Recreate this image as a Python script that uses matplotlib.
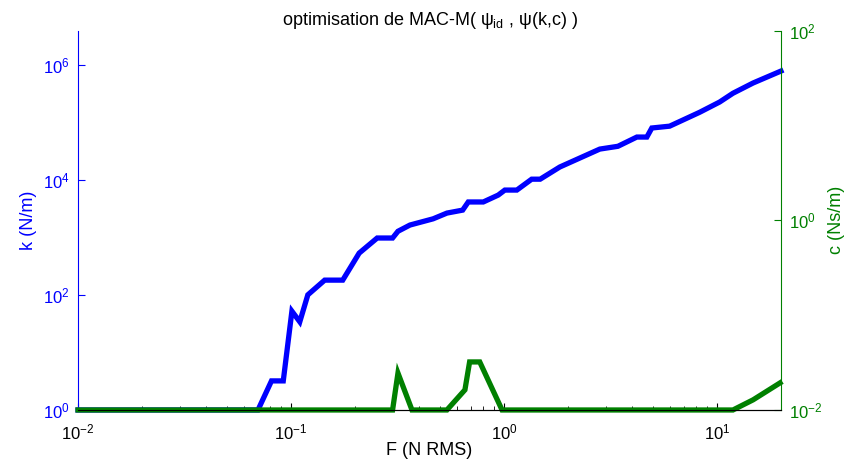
import matplotlib.pyplot as plt
from matplotlib.ticker import LogLocator, NullLocator

plt.rcParams['font.family'] = ['Liberation Sans', 'DejaVu Sans']
plt.rcParams['mathtext.fontset'] = 'custom'
plt.rcParams['mathtext.rm'] = 'Liberation Sans'
plt.rcParams['mathtext.it'] = 'Liberation Sans'
plt.rcParams['axes.unicode_minus'] = False

# courbe k (axe gauche)
F_k = [0.01, 0.070, 0.081, 0.092, 0.101, 0.110, 0.12, 0.144, 0.175, 0.209, 0.254,
       0.30, 0.318, 0.362, 0.465, 0.54, 0.64, 0.68, 0.80, 0.94, 1.01, 1.15, 1.35,
       1.48, 1.83, 2.82, 3.43, 4.21, 4.69, 4.95, 6.0, 8.3, 10.3, 11.9, 14.8, 20.0]
k = [1, 1, 3.2, 3.2, 52, 34, 100, 180, 180, 530, 970,
     970, 1270, 1630, 2090, 2630, 2960, 4100, 4100, 5400, 6600, 6600, 10200,
     10200, 16600, 34000, 38000, 55000, 55000, 79000, 85000, 148000, 223000, 317000, 478000, 770000]

# courbe c (axe droit)
F_c = [0.01, 0.30, 0.318, 0.37, 0.54, 0.656, 0.69, 0.77, 0.98, 11.9, 14.8, 19.8]
c = [0.01, 0.01, 0.0245, 0.01, 0.01, 0.0163, 0.0321, 0.0321, 0.01, 0.01, 0.0128, 0.0193]

bleu = (0, 0, 1)
vert = (0, 0.5, 0)

fig = plt.figure(figsize=(8.51, 4.63), dpi=100)
ax1 = fig.add_axes([0.0917, 0.1145, 0.826, 0.8195])
ax2 = ax1.twinx()

ax1.plot(F_k, k, color=bleu, lw=3.8, clip_on=False, solid_joinstyle='miter')
ax2.plot(F_c, c, color=vert, lw=3.8, clip_on=False, solid_joinstyle='miter')

for ax in (ax1, ax2):
    ax.set_xscale('log')
    ax.set_yscale('log')
    ax.set_xlim(0.01, 20)
    ax.spines['top'].set_visible(False)
    ax.tick_params(direction='in', labelsize=12, length=5, width=0.8, pad=6)
    ax.tick_params(which='minor', direction='in', length=3, width=0.6)

ax1.tick_params(axis='x', pad=9)
ax1.set_ylim(1, 10**6.59)
ax1.set_yticks([1, 1e2, 1e4, 1e6])
ax1.yaxis.set_minor_locator(NullLocator())
ax1.xaxis.set_major_locator(LogLocator(base=10))
ax1.xaxis.set_minor_locator(LogLocator(base=10, subs=range(2, 10)))

ax2.set_ylim(0.01, 100)
ax2.set_yticks([0.01, 1, 100])
ax2.yaxis.set_minor_locator(NullLocator())

ax1.spines['left'].set_color(bleu)
ax1.spines['right'].set_visible(False)
ax2.spines['left'].set_visible(False)
ax2.spines['right'].set_color(vert)
ax1.tick_params(axis='y', colors=bleu)
ax2.tick_params(axis='y', colors=vert)

ax1.set_xlabel('F (N RMS)', fontsize=13, labelpad=0)
ax1.set_ylabel('k (N/m)', color=bleu, fontsize=13, labelpad=4)
ax2.set_ylabel('c (Ns/m)', color=vert, fontsize=13, rotation=90, labelpad=4)
ax1.set_title(r'optimisation de MAC-M( $\psi_{id}$ , $\psi$(k,c) )', fontsize=13, pad=4)

plt.savefig('out.png', dpi=100)
